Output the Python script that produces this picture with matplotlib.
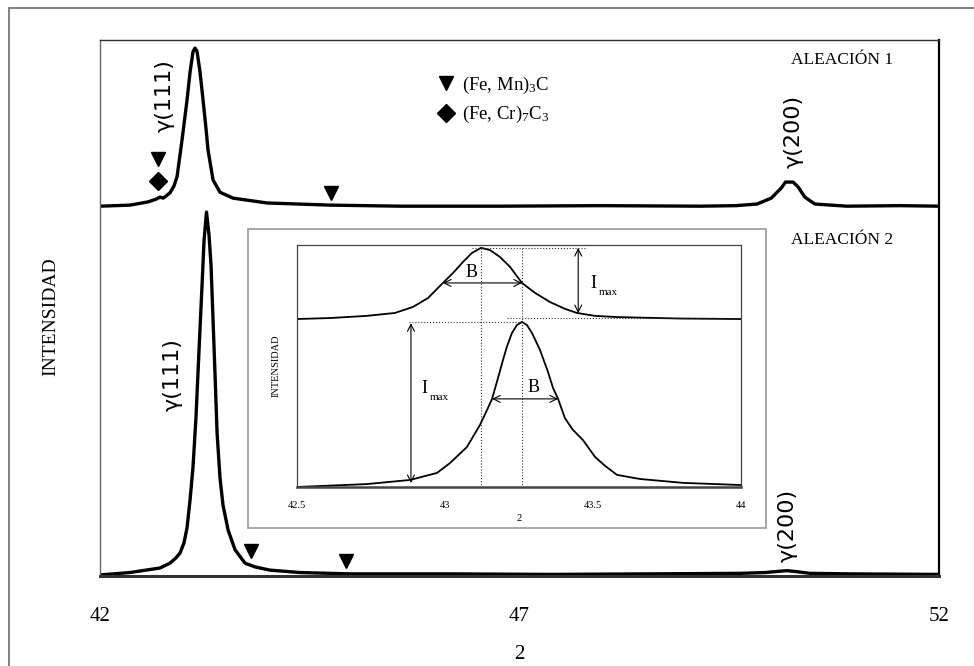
import matplotlib.pyplot as plt
from matplotlib.lines import Line2D
from matplotlib.patches import Rectangle

plt.rcParams["font.family"] = ["Liberation Serif", "DejaVu Serif"]
plt.rcParams["mathtext.fontset"] = "custom"
plt.rcParams["mathtext.rm"] = "Liberation Serif"
plt.rcParams["mathtext.it"] = "Liberation Serif:italic"

# --- diffractograms, 2theta vs intensity (alloy 1 drawn with an offset) ---
tt_alloy1 = [42.000, 42.358, 42.572, 42.667, 42.715, 42.751, 42.787, 42.834, 42.882,
             42.918, 42.977, 43.037, 43.073, 43.108, 43.132, 43.156, 43.192, 43.228,
             43.263, 43.287, 43.347, 43.430, 43.585, 43.990, 44.741, 45.576, 46.768,
             47.960, 49.151, 49.580, 49.830, 50.000, 50.120, 50.170, 50.260, 50.320,
             50.400, 50.520, 50.900, 51.535, 52.000]
int_alloy1 = [69.0, 69.2, 69.8, 70.3, 70.7, 70.5, 70.9, 71.5, 72.8,
              74.5, 81.3, 88.8, 94.0, 97.8, 98.5, 97.9, 94.0, 88.8,
              83.5, 79.5, 73.9, 71.6, 70.5, 69.6, 69.2, 69.0, 69.0,
              69.1, 69.0, 69.1, 69.4, 70.5, 72.4, 73.5, 73.5, 72.6,
              70.7, 69.4, 69.0, 69.1, 69.0]

tt_alloy2 = [42.000, 42.358, 42.715, 42.834, 42.906, 42.954, 43.001, 43.037, 43.073,
             43.108, 43.144, 43.180, 43.216, 43.240, 43.269, 43.299, 43.323, 43.347,
             43.371, 43.395, 43.430, 43.466, 43.526, 43.609, 43.728, 43.847, 44.026,
             44.384, 44.980, 46.172, 47.364, 48.555, 49.628, 49.926, 50.105, 50.188,
             50.284, 50.462, 50.939, 52.000]
int_alloy2 = [0.2, 0.65, 1.5, 2.4, 3.4, 4.3, 6.2, 9.0, 14.2,
              20.3, 29.7, 42.2, 54.3, 62.7, 67.9, 63.6, 58.0, 47.8,
              37.5, 26.7, 18.3, 13.2, 8.6, 4.9, 2.4, 1.7, 1.1,
              0.65, 0.4, 0.4, 0.3, 0.4, 0.5, 0.65, 0.9, 1.0,
              0.85, 0.5, 0.4, 0.3]

# carbide reflections (Fe,Mn)3C and (Fe,Cr)7C3
fe3c_tt = [42.69, 44.75, 43.80, 44.93]
fe3c_int = [77.8, 71.5, 4.7, 2.8]
fe7c3_tt = [42.69]
fe7c3_int = [73.7]

main_ticks = [42, 47, 52]
main_ticklabels = ["42", "47", "52"]

# --- inset: zoom on the gamma(111) peak ---
inset_tt_a = [42.500, 42.611, 42.736, 42.831, 42.892, 42.943, 42.993, 43.027, 43.061,
              43.091, 43.122, 43.152, 43.186, 43.220, 43.260, 43.304, 43.355, 43.405,
              43.446, 43.507, 43.581, 43.794, 44.000]
inset_int_a = [69.4, 69.8, 70.7, 71.9, 74.4, 78.1, 84.3, 88.4, 93.0,
               96.7, 98.8, 97.9, 95.0, 90.9, 84.3, 80.2, 76.4, 73.6,
               71.9, 70.7, 70.2, 69.6, 69.4]

inset_tt_b = [42.500, 42.736, 42.882, 42.973, 43.017, 43.074, 43.118, 43.139, 43.159,
              43.179, 43.196, 43.209, 43.226, 43.243, 43.260, 43.277, 43.294, 43.321,
              43.348, 43.365, 43.382, 43.405, 43.432, 43.466, 43.507, 43.541, 43.581,
              43.659, 43.804, 44.000]
inset_int_b = [0.0, 1.2, 2.9, 5.8, 9.9, 16.5, 25.6, 31.0, 36.4,
               45.0, 52.5, 57.9, 63.6, 66.9, 68.2, 66.9, 63.6, 56.6,
               47.5, 40.9, 36.4, 28.5, 23.6, 19.4, 12.4, 8.7, 5.0,
               3.3, 1.7, 0.8]

inset_ticks = [42.5, 43, 43.5, 44]
inset_ticklabels = ["42.5", "43", "43.5", "44"]

peak_a, imax_a, base_a, half_a = 43.122, 98.8, 69.8, 84.3
peak_b, imax_b, half_b = 43.26, 68.2, 36.4
fwhm_a = (42.993, 43.260)
fwhm_b = (43.159, 43.382)

fig = plt.figure(figsize=(9.74, 6.66), dpi=100)

# outer page frame
fig.patches.append(Rectangle((0.0092, -0.1), 1.2, 1.088, transform=fig.transFigure,
                             fill=False, edgecolor="#777777", lw=1.3, zorder=-1))

ax = fig.add_axes([0.1027, 0.1351, 0.8614, 0.8048])
ax.plot(tt_alloy1, int_alloy1, color="black", lw=2.4, solid_joinstyle="round")
ax.plot(tt_alloy2, int_alloy2, color="black", lw=2.4, solid_joinstyle="round")
ax.plot(fe3c_tt, fe3c_int, "v", color="black", ms=10, ls="none")
ax.plot(fe7c3_tt, fe7c3_int, "D", color="black", ms=9, ls="none")
ax.set_xlim(42, 52)
ax.set_ylim(0, 100)
ax.set_xticks(main_ticks, main_ticklabels, fontsize=15)
ax.tick_params(axis="x", length=0, pad=22)
ax.set_yticks([])
ax.set_xlabel("2", fontsize=15, labelpad=14)
ax.set_ylabel("INTENSIDAD", fontsize=14)
ax.yaxis.set_label_coords(-0.048, 0.483)
ax.spines["left"].set(color="#666666", lw=1.0)
ax.spines["top"].set(color="#333333", lw=1.0)
ax.spines["right"].set(color="black", lw=1.6)
ax.spines["bottom"].set(color="#333333", lw=2.2)

gfont = dict(family="DejaVu Sans", fontsize=16, rotation=90, ha="center", va="center")
ax.text(42.775, 89.7, "γ(111)", **gfont)
ax.text(50.27, 83.0, "γ(200)", **gfont)
ax.text(42.87, 37.5, "γ(111)", **gfont)
ax.text(50.2, 9.5, "γ(200)", **gfont)
ax.text(0.885, 0.963, "ALEACIÓN 1", transform=ax.transAxes, fontsize=12.5,
        ha="center", va="center")
ax.text(0.885, 0.627, "ALEACIÓN 2", transform=ax.transAxes, fontsize=12.5,
        ha="center", va="center")

handles = [Line2D([], [], marker="v", color="black", ls="none", ms=10),
           Line2D([], [], marker="D", color="black", ls="none", ms=9)]
ax.legend(handles, ["(Fe, Mn)$_3$C", "(Fe, Cr)$_7$C$_3$"], loc="upper left",
          bbox_to_anchor=(0.385, 0.96), frameon=False, fontsize=13.5,
          handlelength=1.0, handletextpad=0.4, labelspacing=0.45, borderpad=0.2)

# inset frame and axes
fig.patches.append(Rectangle((0.2546, 0.2072), 0.5318, 0.449, transform=fig.transFigure,
                             facecolor="white", edgecolor="#999999", lw=1.2, zorder=1))
ins = fig.add_axes([0.3049, 0.2688, 0.4559, 0.3634], zorder=2)
ins.plot(inset_tt_a, inset_int_a, color="black", lw=1.3)
ins.plot(inset_tt_b, inset_int_b, color="black", lw=1.3)
ins.set_xlim(42.5, 44)
ins.set_ylim(0, 100)
ins.set_xticks(inset_ticks, inset_ticklabels, fontsize=7.5)
ins.tick_params(axis="x", length=0, pad=10)
ins.set_yticks([])
ins.set_xlabel("2", fontsize=7.5, labelpad=3)
ins.set_ylabel("INTENSIDAD", fontsize=7.5, labelpad=12)
for side in ("left", "top", "right"):
    ins.spines[side].set(color="#444444", lw=0.9)
ins.spines["bottom"].set(color="#444444", lw=1.8)

dot = dict(color="#333333", lw=0.8, ls=":")
ins.plot([43.09, 43.48], [imax_a, imax_a], **dot)
ins.plot([43.21, 44.0], [base_a, base_a], **dot)
ins.plot([42.88, peak_b], [imax_b, imax_b], **dot)
ins.plot([peak_a, peak_a], [imax_a, 0], **dot)
ins.plot([peak_b, peak_b], [imax_a, 0], **dot)

arr = dict(arrowstyle="<->,head_length=0.5,head_width=0.25", color="black", lw=0.8,
           shrinkA=0, shrinkB=0)
ins.annotate("", xy=(43.45, imax_a), xytext=(43.45, base_a + 2.0), arrowprops=arr)
ins.annotate("", xy=(42.885, imax_b - 0.5), xytext=(42.885, 1.6), arrowprops=arr)
ins.annotate("", xy=(fwhm_a[0], half_a), xytext=(fwhm_a[1], half_a), arrowprops=arr)
ins.annotate("", xy=(fwhm_b[0], half_b), xytext=(fwhm_b[1], half_b), arrowprops=arr)

ins.text(43.09, 88.8, "B", fontsize=13, ha="center", va="center")
ins.text(43.30, 40.9, "B", fontsize=13, ha="center", va="center")
ins.text(43.49, 84.0, "I", fontsize=13, ha="left", va="center")
ins.text(43.52, 80.5, "max", fontsize=8, ha="left", va="center")
ins.text(42.92, 40.5, "I", fontsize=13, ha="left", va="center")
ins.text(42.95, 37.0, "max", fontsize=8, ha="left", va="center")

fig.savefig("out.png", dpi=100)
